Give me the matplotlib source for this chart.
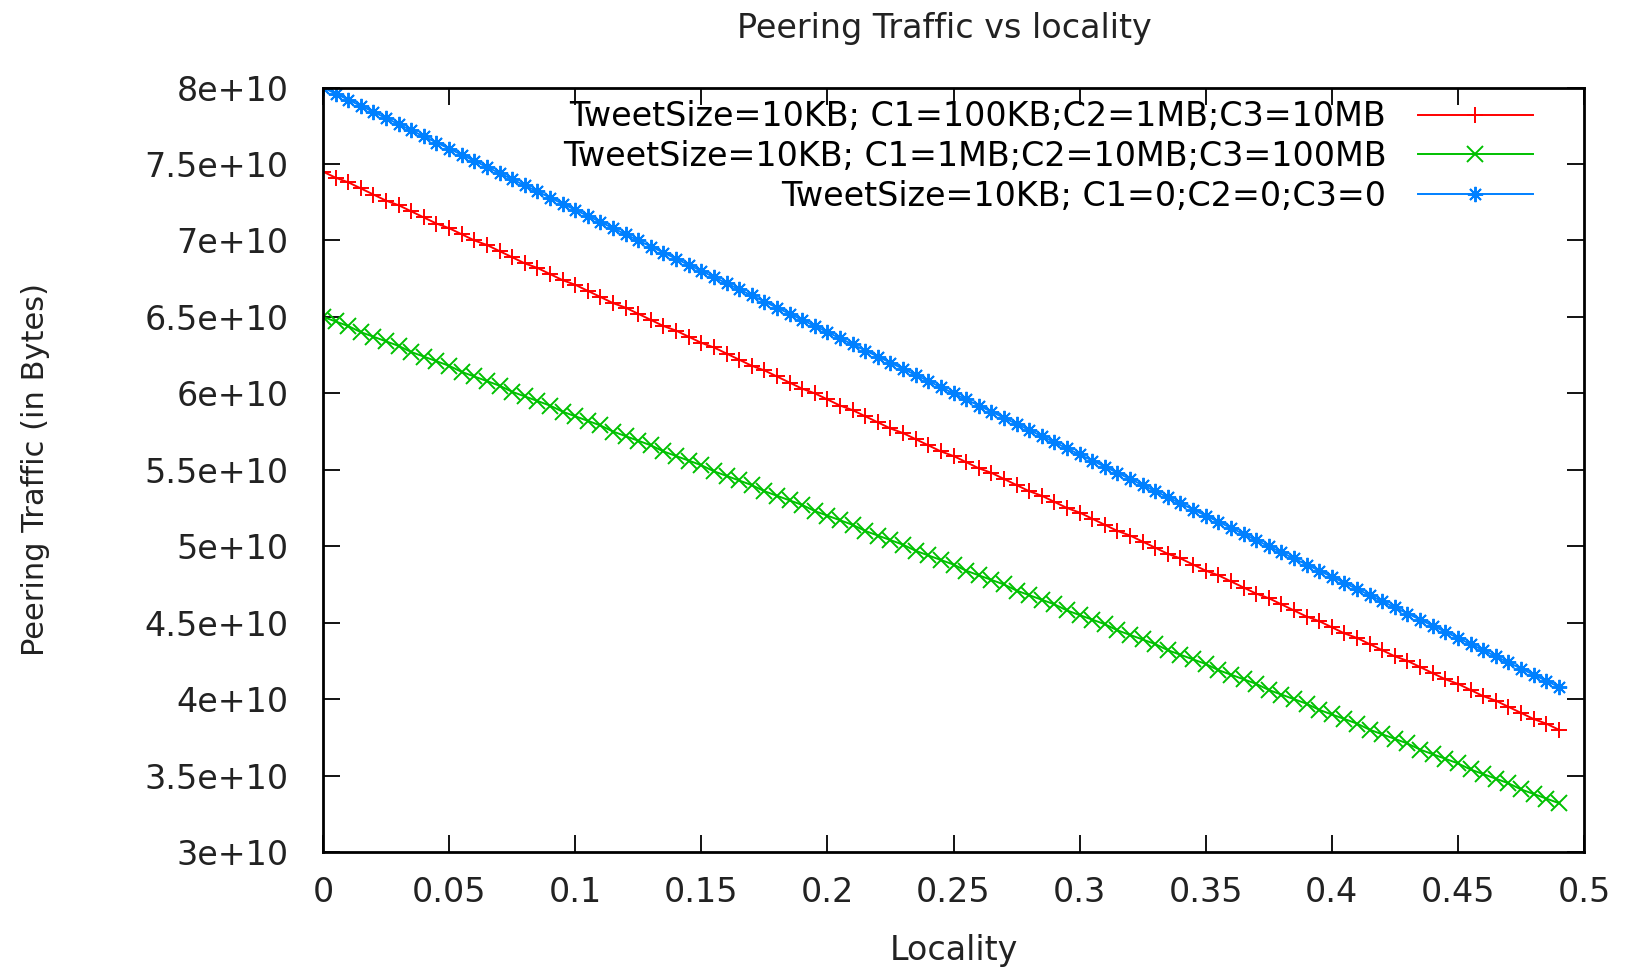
"""Peering traffic against locality for three cache configurations."""

import matplotlib
matplotlib.use("Agg")
import matplotlib.pyplot as plt

# locality values (x)
locality = [
    0.000, 0.005, 0.010, 0.015, 0.020, 0.025, 0.030, 0.035, 0.040, 0.045,
    0.050, 0.055, 0.060, 0.065, 0.070, 0.075, 0.080, 0.085, 0.090, 0.095,
    0.100, 0.105, 0.110, 0.115, 0.120, 0.125, 0.130, 0.135, 0.140, 0.145,
    0.150, 0.155, 0.160, 0.165, 0.170, 0.175, 0.180, 0.185, 0.190, 0.195,
    0.200, 0.205, 0.210, 0.215, 0.220, 0.225, 0.230, 0.235, 0.240, 0.245,
    0.250, 0.255, 0.260, 0.265, 0.270, 0.275, 0.280, 0.285, 0.290, 0.295,
    0.300, 0.305, 0.310, 0.315, 0.320, 0.325, 0.330, 0.335, 0.340, 0.345,
    0.350, 0.355, 0.360, 0.365, 0.370, 0.375, 0.380, 0.385, 0.390, 0.395,
    0.400, 0.405, 0.410, 0.415, 0.420, 0.425, 0.430, 0.435, 0.440, 0.445,
    0.450, 0.455, 0.460, 0.465, 0.470, 0.475, 0.480, 0.485, 0.490,
]

# peering traffic, in units of 1e9 bytes
traffic_c1_100kb = [
    74.5, 74.1, 73.8, 73.4, 73.0, 72.6, 72.3, 71.9, 71.5, 71.1,
    70.8, 70.4, 70.0, 69.7, 69.3, 68.9, 68.5, 68.2, 67.8, 67.4,
    67.1, 66.7, 66.3, 65.9, 65.6, 65.2, 64.8, 64.4, 64.1, 63.7,
    63.3, 63.0, 62.6, 62.2, 61.8, 61.5, 61.1, 60.7, 60.3, 60.0,
    59.6, 59.2, 58.9, 58.5, 58.1, 57.7, 57.4, 57.0, 56.6, 56.2,
    55.9, 55.5, 55.1, 54.8, 54.4, 54.0, 53.6, 53.3, 52.9, 52.5,
    52.2, 51.8, 51.4, 51.0, 50.7, 50.3, 49.9, 49.5, 49.2, 48.8,
    48.4, 48.1, 47.7, 47.3, 46.9, 46.6, 46.2, 45.8, 45.4, 45.1,
    44.7, 44.3, 44.0, 43.6, 43.2, 42.8, 42.5, 42.1, 41.7, 41.3,
    41.0, 40.6, 40.2, 39.9, 39.5, 39.1, 38.7, 38.4, 38.0,
]
traffic_c1_1mb = [
    65.0, 64.7, 64.4, 64.0, 63.7, 63.4, 63.1, 62.7, 62.4, 62.1,
    61.8, 61.4, 61.1, 60.8, 60.5, 60.1, 59.8, 59.5, 59.2, 58.8,
    58.5, 58.2, 57.9, 57.5, 57.2, 56.9, 56.6, 56.2, 55.9, 55.6,
    55.3, 54.9, 54.6, 54.3, 54.0, 53.6, 53.3, 53.0, 52.7, 52.3,
    52.0, 51.7, 51.4, 51.0, 50.7, 50.4, 50.1, 49.7, 49.4, 49.1,
    48.8, 48.4, 48.1, 47.8, 47.5, 47.1, 46.8, 46.5, 46.2, 45.8,
    45.5, 45.2, 44.9, 44.5, 44.2, 43.9, 43.6, 43.2, 42.9, 42.6,
    42.3, 41.9, 41.6, 41.3, 41.0, 40.6, 40.3, 40.0, 39.7, 39.3,
    39.0, 38.7, 38.4, 38.0, 37.7, 37.4, 37.1, 36.7, 36.4, 36.1,
    35.8, 35.4, 35.1, 34.8, 34.5, 34.1, 33.8, 33.5, 33.2,
]
traffic_no_cache = [
    80.0, 79.6, 79.2, 78.8, 78.4, 78.0, 77.6, 77.2, 76.8, 76.4,
    76.0, 75.6, 75.2, 74.8, 74.4, 74.0, 73.6, 73.2, 72.8, 72.4,
    72.0, 71.6, 71.2, 70.8, 70.4, 70.0, 69.6, 69.2, 68.8, 68.4,
    68.0, 67.6, 67.2, 66.8, 66.4, 66.0, 65.6, 65.2, 64.8, 64.4,
    64.0, 63.6, 63.2, 62.8, 62.4, 62.0, 61.6, 61.2, 60.8, 60.4,
    60.0, 59.6, 59.2, 58.8, 58.4, 58.0, 57.6, 57.2, 56.8, 56.4,
    56.0, 55.6, 55.2, 54.8, 54.4, 54.0, 53.6, 53.2, 52.8, 52.4,
    52.0, 51.6, 51.2, 50.8, 50.4, 50.0, 49.6, 49.2, 48.8, 48.4,
    48.0, 47.6, 47.2, 46.8, 46.4, 46.0, 45.6, 45.2, 44.8, 44.4,
    44.0, 43.6, 43.2, 42.8, 42.4, 42.0, 41.6, 41.2, 40.8,
]

labels = [
    "TweetSize=10KB; C1=100KB;C2=1MB;C3=10MB",
    "TweetSize=10KB; C1=1MB;C2=10MB;C3=100MB",
    "TweetSize=10KB; C1=0;C2=0;C3=0",
]
y_ticks = [3e10, 3.5e10, 4e10, 4.5e10, 5e10, 5.5e10, 6e10, 6.5e10, 7e10, 7.5e10, 8e10]
y_tick_labels = ["3e+10", "3.5e+10", "4e+10", "4.5e+10", "5e+10", "5.5e+10",
                 "6e+10", "6.5e+10", "7e+10", "7.5e+10", "8e+10"]
x_ticks = [0, 0.05, 0.1, 0.15, 0.2, 0.25, 0.3, 0.35, 0.4, 0.45, 0.5]
x_tick_labels = ["0", "0.05", "0.1", "0.15", "0.2", "0.25", "0.3", "0.35", "0.4", "0.45", "0.5"]

plt.rcParams["font.family"] = ["DejaVu Sans"]
TEXT = "#222222"
FS = 24

fig = plt.figure(figsize=(16.33, 9.69), dpi=100)
ax = fig.add_axes([0.1978, 0.1207, 0.7722, 0.7890])

series = [
    (traffic_c1_100kb, "#ff0000", "+"),
    (traffic_c1_1mb, "#00c000", "x"),
    (traffic_no_cache, "#0080ff", (8, 2, 0)),
]
for values, color, marker in series:
    ax.plot(locality, [v * 1e9 for v in values], color=color, lw=1.4,
            marker=marker, markersize=11, markeredgewidth=1.4)

ax.set_xlim(0, 0.5)
ax.set_ylim(3e10, 8e10)
ax.set_xticks(x_ticks)
ax.set_xticklabels(x_tick_labels)
ax.set_yticks(y_ticks)
ax.set_yticklabels(y_tick_labels)
ax.tick_params(direction="in", length=12, width=1.3, labelsize=FS,
               top=True, right=True, colors="black", labelcolor=TEXT)
ax.tick_params(axis="x", pad=17)
ax.tick_params(axis="y", pad=25)
for spine in ax.spines.values():
    spine.set_linewidth(2)

ax.set_title("Peering Traffic vs locality", fontsize=FS, color=TEXT, pad=36, x=0.493)
ax.set_xlabel("Locality", fontsize=FS, color=TEXT, labelpad=18)
ax.set_ylabel("Peering Traffic (in Bytes)", fontsize=22, color=TEXT, labelpad=68)

ax.legend(labels, loc="upper right", bbox_to_anchor=(0.9595, 0.983),
          frameon=False, markerfirst=False, fontsize=FS, handlelength=3.45,
          handletextpad=0.95, labelspacing=0.2, borderaxespad=0, borderpad=0)

fig.savefig("out.png", dpi=100)
